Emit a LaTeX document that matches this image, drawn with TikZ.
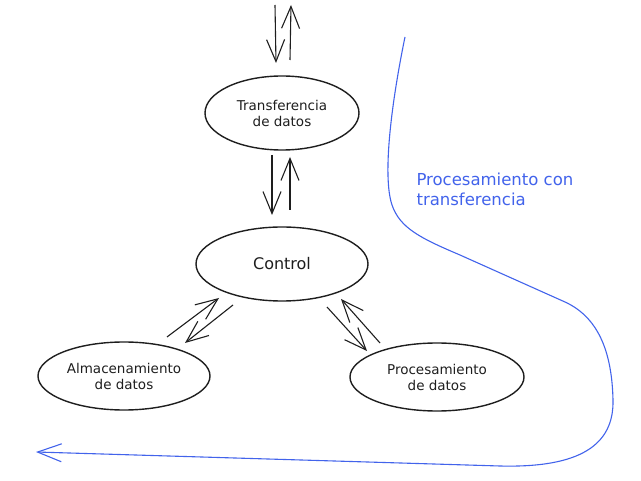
\documentclass[tikz,border=0pt]{standalone}
\usepackage{fontspec}
\setmainfont{DejaVu Sans}
\usetikzlibrary{arrows.meta,shapes.geometric}
\definecolor{ink}{HTML}{1E1E1E}
\definecolor{pen}{HTML}{4263EB}
\tikzset{
  bubble/.style={draw=ink, line width=1.4pt, ellipse, inner sep=0pt, align=center, font=\fontsize{13.5}{16}\selectfont, text=ink},
  arr/.style={draw=ink, line width=1.1pt, -{Straight Barb[length=22pt,width=18pt,line width=1.1pt]}},
  bluearr/.style={draw=pen, line width=1.1pt, -{Straight Barb[length=24pt,width=18pt,line width=1.1pt]}},
}
\begin{document}
\begin{tikzpicture}[x=1pt,y=-1pt]
\useasboundingbox (0,0) rectangle (641,481);
\node[bubble, minimum width=154pt, minimum height=74pt] (tr) at (282,113) {Transferencia\\de datos};
\node[bubble, minimum width=172pt, minimum height=74pt, font=\fontsize{16}{18}\selectfont] (ct) at (282,264) {Control};
\node[bubble, minimum width=172pt, minimum height=68pt] (alm) at (124,376) {Almacenamiento\\de datos};
\node[bubble, minimum width=174pt, minimum height=68pt] (pro) at (437,377) {Procesamiento\\de datos};
\coordinate (topin) at (275,5);
\coordinate (topout) at (291,5);
% top
\draw[arr] (topin) -- ([shift={(-6,-50)}]tr.center);
\draw[arr] ([shift={(8,-53)}]tr.center) -- (topout);
% tr <-> ct
\draw[arr] ([shift={(-10,42)}]tr.center) -- ([shift={(-10,-49)}]ct.center);
\draw[arr] ([shift={(8,-54)}]ct.center) -- ([shift={(8,44)}]tr.center);
% ct <-> alm
\draw[arr] ([shift={(43,-39)}]alm.center) -- ([shift={(-63,34)}]ct.center);
\draw[arr] ([shift={(-49,41)}]ct.center) -- ([shift={(61,-33)}]alm.center);
% ct <-> pro
\draw[arr] ([shift={(45,43)}]ct.center) -- ([shift={(-70,-26)}]pro.center);
\draw[arr] ([shift={(-57,-34)}]pro.center) -- ([shift={(59,35)}]ct.center);
% blue curve
\coordinate (bstart) at (405,37);
\coordinate (bend) at (36,452);
\draw[bluearr] (bstart) .. controls (392,100) and (382,175) .. (392,205)
  .. controls (400,228) and (420,238) .. (460,255)
  -- (565,302)
  .. controls (600,318) and (612,355) .. (613,400)
  .. controls (614,445) and (580,468) .. (500,466)
  -- (bend);
\node[text=pen, font=\fontsize{16.5}{20}\selectfont, align=left, anchor=north west] (lbl) at (413,169) {Procesamiento con\\transferencia};
\end{tikzpicture}
\end{document}
